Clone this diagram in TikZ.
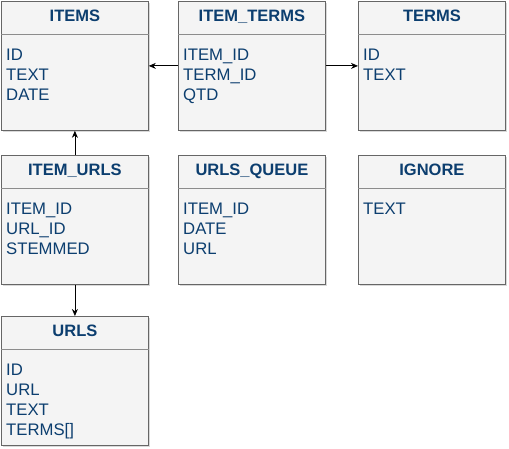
\documentclass[tikz,border=0pt]{standalone}
\usepackage{fontspec}
\setmainfont{Liberation Sans}
\usetikzlibrary{arrows.meta,shadows}
\definecolor{tblfill}{HTML}{F4F4F4}
\definecolor{tbldraw}{HTML}{666666}
\definecolor{tblline}{HTML}{8C8C8C}
\definecolor{tbltext}{HTML}{0C3E6F}
\begin{document}
\begin{tikzpicture}[x=1pt,y=-1pt,
    tbl/.style={draw=tbldraw,fill=tblfill,line width=0.8pt,anchor=north west,inner sep=0pt,
        minimum width=147pt,minimum height=129pt,
        drop shadow={shadow xshift=2pt,shadow yshift=-2pt,opacity=.3}},
    tbltitle/.style={anchor=base,inner sep=0pt,text=tbltext,font=\fontsize{16.5}{20}\selectfont\bfseries},
    tblfields/.style={anchor=north west,inner sep=0pt,align=left,text=tbltext,font=\fontsize{16.7}{20}\selectfont},
    arr/.style={-{Stealth[length=7pt,width=6pt]},line width=0.8pt}]
        \useasboundingbox (0,0) rectangle (509,449);

        \foreach \n/\x/\y/\t/\f in {items/1/1/ITEMS/{ID\\TEXT\\DATE},
                iterms/178/1/ITEM\_TERMS/{ITEM\_ID\\TERM\_ID\\QTD},
                terms/358/1/TERMS/{ID\\TEXT},
                iurls/1/155/ITEM\_URLS/{ITEM\_ID\\URL\_ID\\STEMMED},
                queue/178/155/URLS\_QUEUE/{ITEM\_ID\\DATE\\URL},
                ignore/358/155/IGNORE/{TEXT},
                urls/1/316/URLS/{ID\\URL\\TEXT\\TERMS[]}} {
            \node[tbl] (\n) at (\x,\y) {};
            \draw[tblline,line width=0.8pt] ([yshift=-33pt]\n.north west)--([yshift=-33pt]\n.north east);
            \node[tbltitle] (\n-title) at ([yshift=-20.5pt]\n.north) {\t};
            \node[tblfields] (\n-fields) at ([xshift=5pt,yshift=-47.5pt]\n.north west) {\f};
        }

        \draw[arr] (iterms.west) -- (items.east);
        \draw[arr] (iterms.east) -- (terms.west);
        \draw[arr] (iurls.north) -- (items.south);
        \draw[arr] (iurls.south) -- (urls.north);

    \end{tikzpicture}
\end{document}
